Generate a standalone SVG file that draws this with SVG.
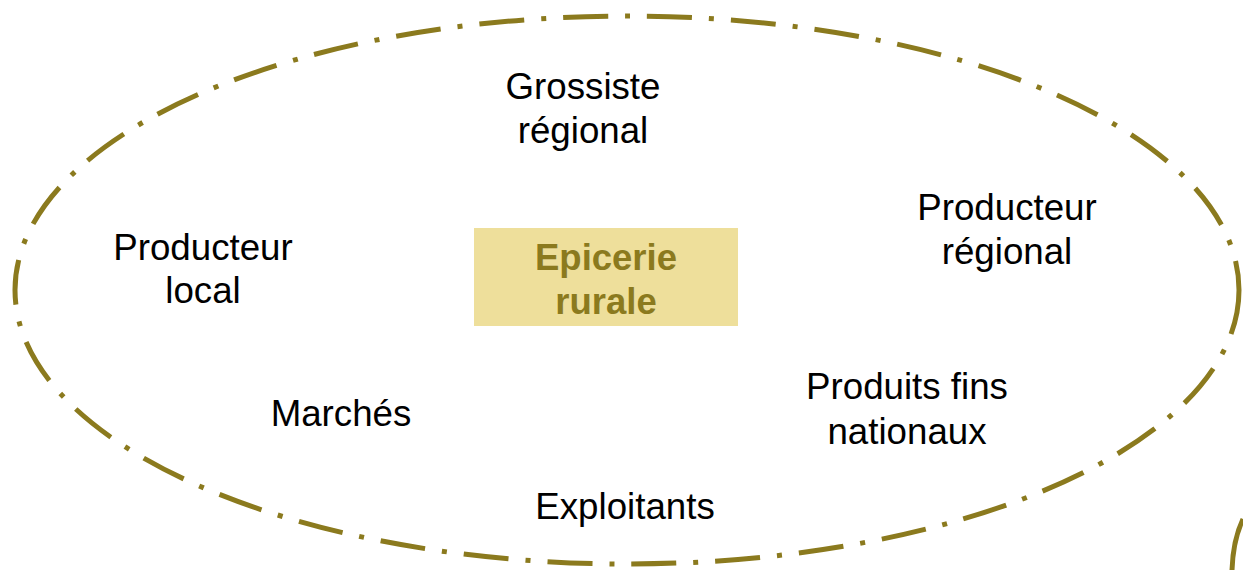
<svg xmlns="http://www.w3.org/2000/svg" width="1243" height="570" viewBox="0 0 1243 570">
<style>
.lbl{font-family:"Liberation Sans",Arial,sans-serif;font-size:36.7px;fill:#000;text-anchor:middle}
.core{font-family:"Liberation Sans",Arial,sans-serif;font-size:36.5px;font-weight:bold;fill:#8B7A1E;text-anchor:middle}
.olive{fill:none;stroke:#8B7A1E;stroke-width:5}
</style>
<rect width="1243" height="570" fill="#fff"/>
<g id="boundary">
<ellipse class="olive" cx="627" cy="290" rx="612" ry="274" stroke-dasharray="45 17 5 17"/>
</g>
<g id="edge-shape">
<path class="olive" d="M1243,519 Q1233,540 1232,570"/>
</g>
<g id="epicerie">
<rect x="474" y="228" width="264" height="98" fill="#EEDF9B"/>
<text class="core" x="606" y="270">Epicerie</text>
<text class="core" x="606" y="314">rurale</text>
</g>
<g id="grossiste"><text class="lbl" x="583" y="99">Grossiste</text><text class="lbl" x="583" y="143">régional</text></g>
<g id="producteur-local"><text class="lbl" x="203" y="260">Producteur</text><text class="lbl" x="203" y="303">local</text></g>
<g id="producteur-regional"><text class="lbl" x="1007" y="220">Producteur</text><text class="lbl" x="1007" y="264">régional</text></g>
<g id="marches"><text class="lbl" x="341" y="426">Marchés</text></g>
<g id="produits-fins"><text class="lbl" x="907" y="399">Produits fins</text><text class="lbl" x="907" y="444">nationaux</text></g>
<g id="exploitants"><text class="lbl" x="625" y="519">Exploitants</text></g>
<g id="connectors"></g>
</svg>
